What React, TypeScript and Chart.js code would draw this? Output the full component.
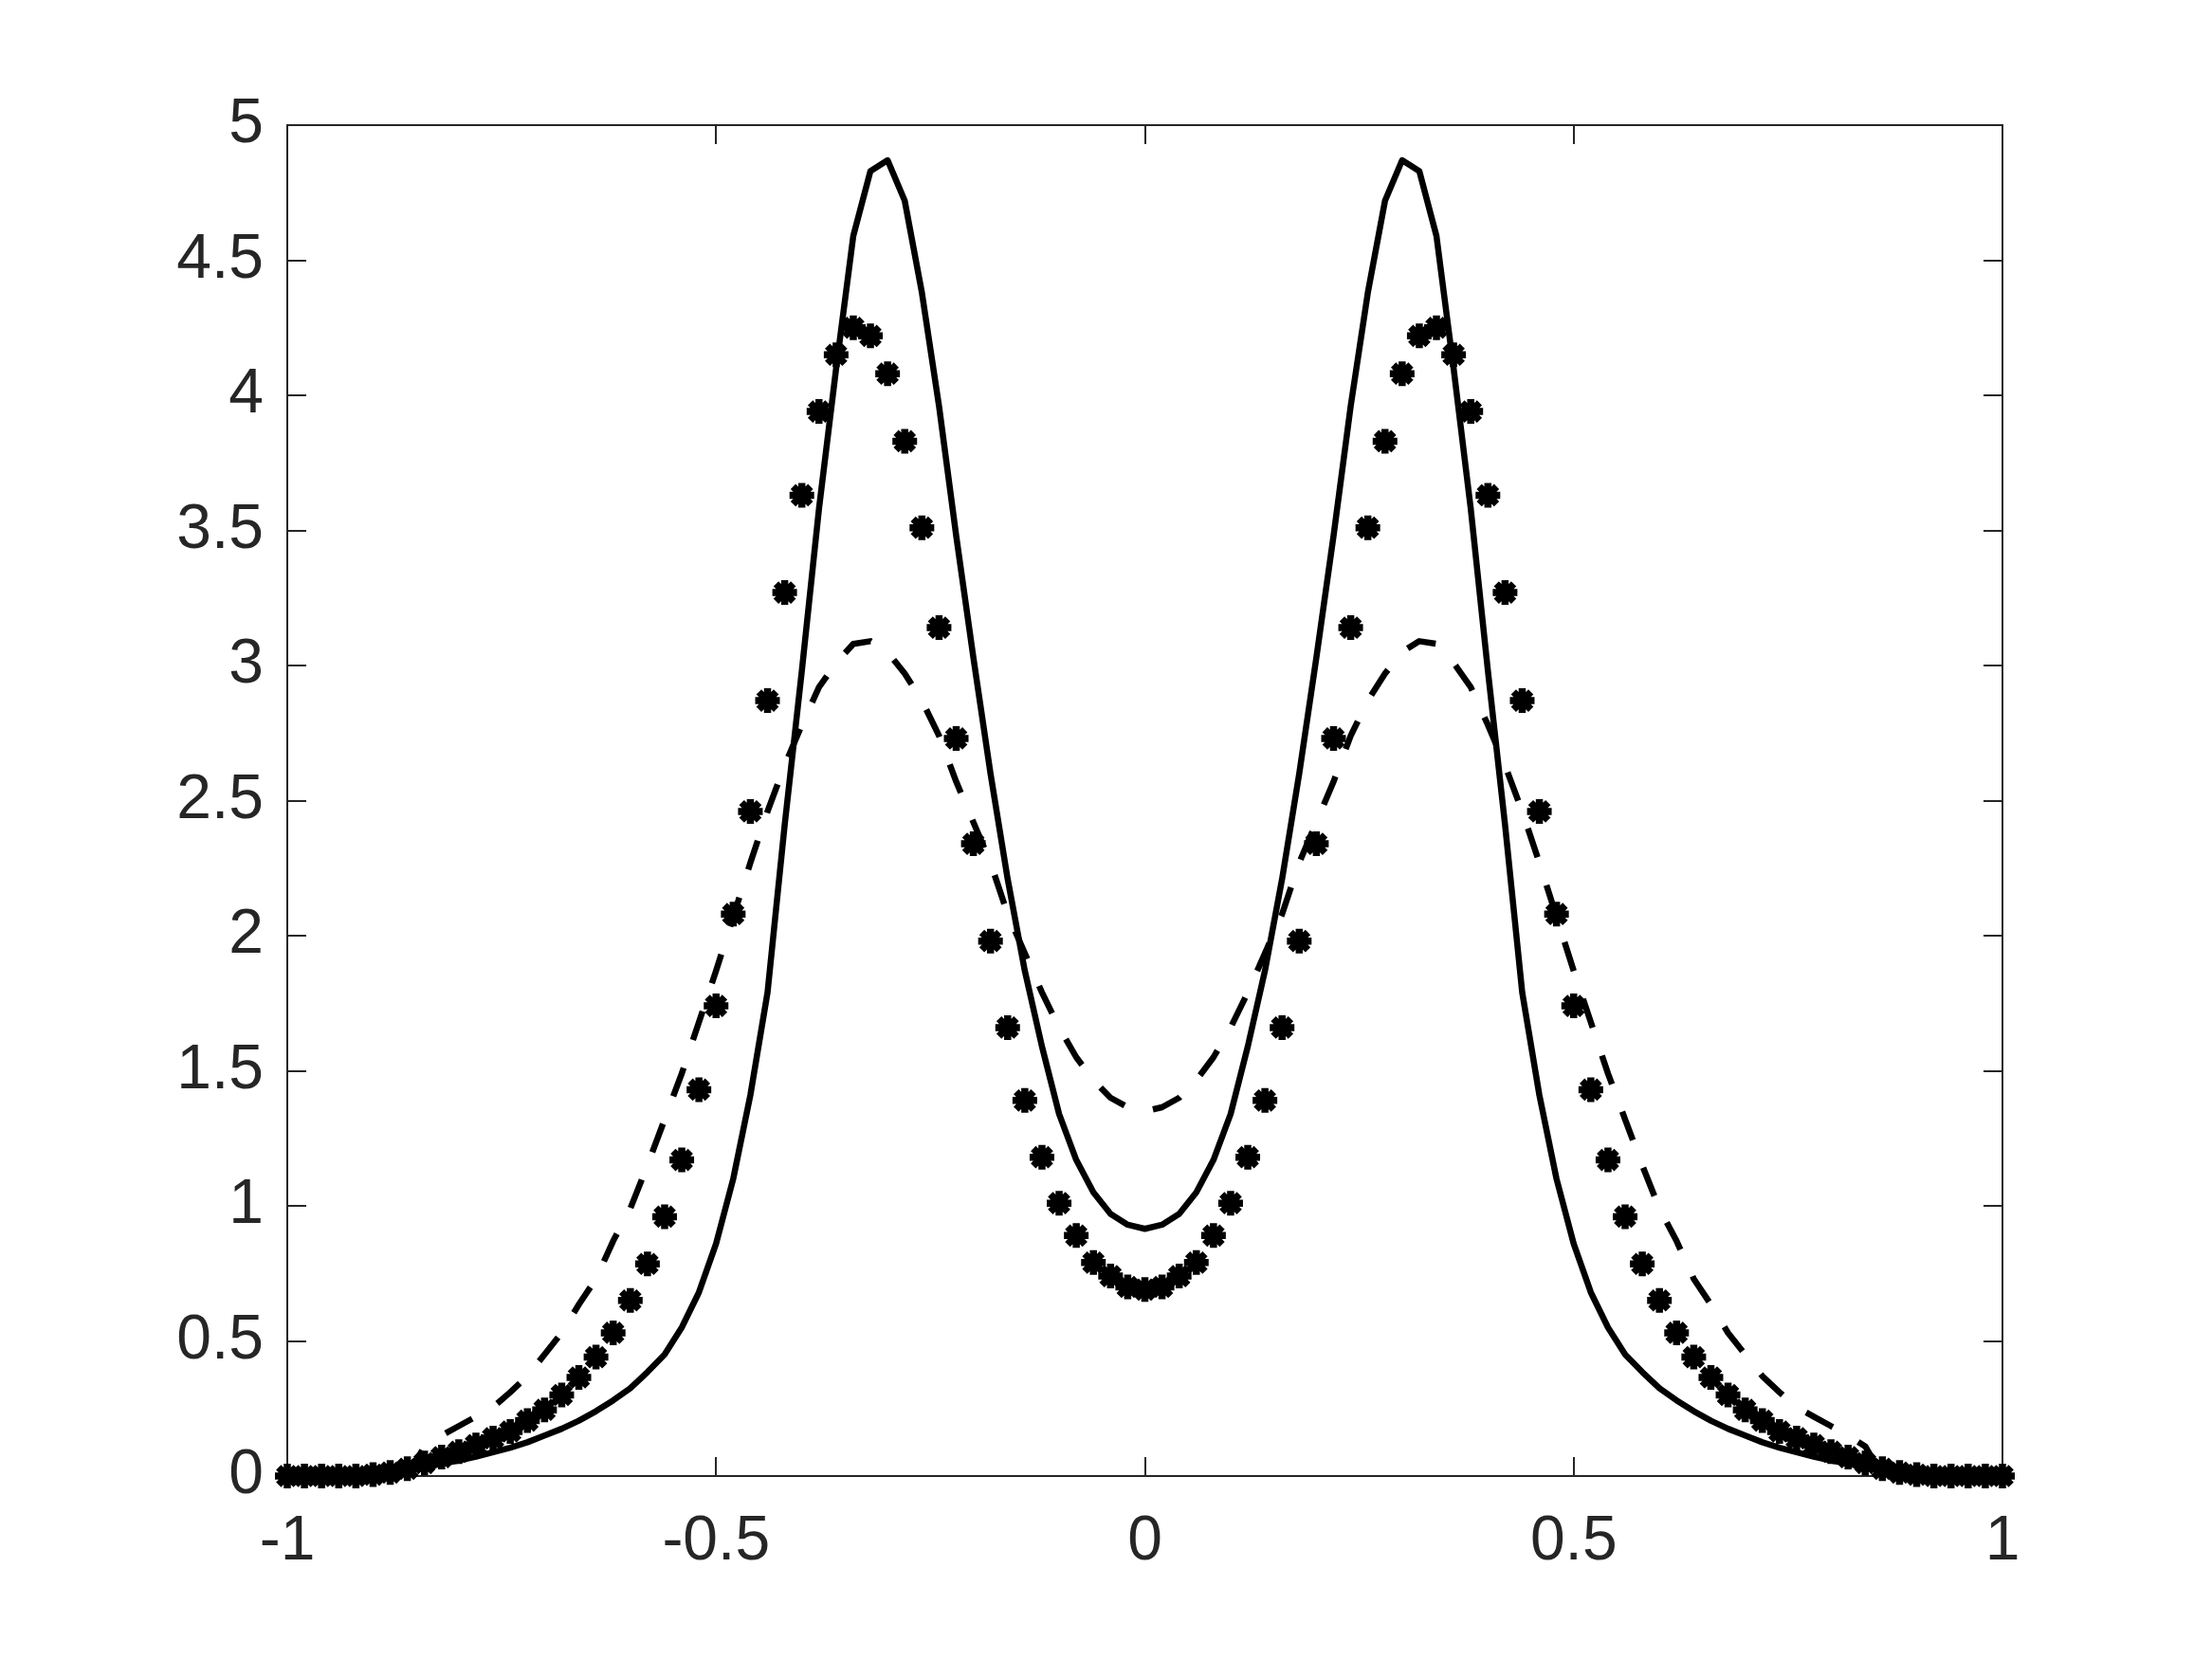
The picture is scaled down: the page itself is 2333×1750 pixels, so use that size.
import React, { useEffect, useRef } from "react";
import { Chart, registerables } from "chart.js";

Chart.register(...registerables);

const xValues = [
  -1, -0.98, -0.96, -0.94, -0.92, -0.9, -0.88, -0.86, -0.84, -0.82,
  -0.8, -0.78, -0.76, -0.74, -0.72, -0.7, -0.68, -0.66, -0.64, -0.62,
  -0.6, -0.58, -0.56, -0.54, -0.52, -0.5, -0.48, -0.46, -0.44, -0.42,
  -0.4, -0.38, -0.36, -0.34, -0.32, -0.3, -0.28, -0.26, -0.24, -0.22,
  -0.2, -0.18, -0.16, -0.14, -0.12, -0.1, -0.08, -0.06, -0.04, -0.02,
  0,
  0.02, 0.04, 0.06, 0.08, 0.1, 0.12, 0.14, 0.16, 0.18, 0.2,
  0.22, 0.24, 0.26, 0.28, 0.3, 0.32, 0.34, 0.36, 0.38, 0.4,
  0.42, 0.44, 0.46, 0.48, 0.5, 0.52, 0.54, 0.56, 0.58, 0.6,
  0.62, 0.64, 0.66, 0.68, 0.7, 0.72, 0.74, 0.76, 0.78, 0.8,
  0.82, 0.84, 0.86, 0.88, 0.9, 0.92, 0.94, 0.96, 0.98, 1,
];

const solidValues = [
  0, 0, 0, 0, 0, 0.004, 0.01, 0.02, 0.032, 0.045,
  0.058, 0.072, 0.088, 0.105, 0.125, 0.15, 0.175, 0.205, 0.24, 0.28,
  0.325, 0.385, 0.45, 0.55, 0.68, 0.86, 1.1, 1.41, 1.79, 2.41,
  2.98, 3.58, 4.1, 4.59, 4.83, 4.87, 4.72, 4.38, 3.96, 3.48,
  3.03, 2.6, 2.21, 1.87, 1.59, 1.34, 1.17, 1.05, 0.97, 0.93,
  0.915,
  0.93, 0.97, 1.05, 1.17, 1.34, 1.59, 1.87, 2.21, 2.6, 3.03,
  3.48, 3.96, 4.38, 4.72, 4.87, 4.83, 4.59, 4.1, 3.58, 2.98,
  2.41, 1.79, 1.41, 1.1, 0.86, 0.68, 0.55, 0.45, 0.385, 0.325,
  0.28, 0.24, 0.205, 0.175, 0.15, 0.125, 0.105, 0.088, 0.072, 0.058,
  0.045, 0.032, 0.02, 0.01, 0.004, 0, 0, 0, 0, 0,
];

const dashedValues = [
  0, 0, 0, 0, 0, 0, 0, 0, 0.11, 0.15,
  0.185, 0.22, 0.255, 0.31, 0.37, 0.45, 0.53, 0.635, 0.73, 0.87,
  0.99, 1.15, 1.32, 1.49, 1.68, 1.87, 2.07, 2.27, 2.46, 2.63,
  2.78, 2.92, 3.01, 3.08, 3.09, 3.05, 2.97, 2.87, 2.74, 2.57,
  2.42, 2.27, 2.08, 1.935, 1.79, 1.66, 1.55, 1.465, 1.4, 1.365,
  1.35,
  1.365, 1.4, 1.465, 1.55, 1.66, 1.79, 1.935, 2.08, 2.27, 2.42,
  2.57, 2.74, 2.87, 2.97, 3.05, 3.09, 3.08, 3.01, 2.92, 2.78,
  2.63, 2.46, 2.27, 2.07, 1.87, 1.68, 1.49, 1.32, 1.15, 0.99,
  0.87, 0.73, 0.635, 0.53, 0.45, 0.37, 0.31, 0.255, 0.22, 0.185,
  0.15, 0.11, 0, 0, 0, 0, 0, 0, 0, 0,
];

const starValues = [
  0, 0, 0, 0, 0, 0.005, 0.013, 0.027, 0.048, 0.07,
  0.09, 0.115, 0.14, 0.165, 0.205, 0.245, 0.3, 0.365, 0.44, 0.53,
  0.65, 0.785, 0.96, 1.17, 1.43, 1.74, 2.08, 2.46, 2.87, 3.27,
  3.63, 3.94, 4.15, 4.25, 4.22, 4.08, 3.83, 3.51, 3.14, 2.73,
  2.34, 1.98, 1.66, 1.39, 1.18, 1.01, 0.89, 0.79, 0.74, 0.7,
  0.69,
  0.7, 0.74, 0.79, 0.89, 1.01, 1.18, 1.39, 1.66, 1.98, 2.34,
  2.73, 3.14, 3.51, 3.83, 4.08, 4.22, 4.25, 4.15, 3.94, 3.63,
  3.27, 2.87, 2.46, 2.08, 1.74, 1.43, 1.17, 0.96, 0.785, 0.65,
  0.53, 0.44, 0.365, 0.3, 0.245, 0.205, 0.165, 0.14, 0.115, 0.09,
  0.07, 0.048, 0.027, 0.013, 0.005, 0, 0, 0, 0, 0,
];

const xTickValues = [-1, -0.5, 0, 0.5, 1];
const yTickValues = [0, 0.5, 1, 1.5, 2, 2.5, 3, 3.5, 4, 4.5, 5];

const FONT_FAMILY = "'Liberation Sans', Arial, Helvetica, sans-serif";
const AXIS_COLOR = "#262626";
const TICK_LEN = 20;

const framePlugin = {
  id: "matlabFrame",
  beforeDatasetsDraw(chart: any) {
    const { ctx, chartArea: a, scales } = chart;
    ctx.save();
    ctx.strokeStyle = AXIS_COLOR;
    ctx.lineWidth = 2;
    ctx.strokeRect(a.left, a.top, a.right - a.left, a.bottom - a.top);
    ctx.beginPath();
    for (const v of xTickValues) {
      const px = Math.round(scales.x.getPixelForValue(v));
      ctx.moveTo(px, a.bottom);
      ctx.lineTo(px, a.bottom - TICK_LEN);
      ctx.moveTo(px, a.top);
      ctx.lineTo(px, a.top + TICK_LEN);
    }
    for (const v of yTickValues) {
      const py = Math.round(scales.y.getPixelForValue(v));
      ctx.moveTo(a.left, py);
      ctx.lineTo(a.left + TICK_LEN, py);
      ctx.moveTo(a.right, py);
      ctx.lineTo(a.right - TICK_LEN, py);
    }
    ctx.stroke();
    ctx.restore();
  },
};

export default function App() {
  const canvasRef = useRef<HTMLCanvasElement | null>(null);

  useEffect(() => {
    const canvas = canvasRef.current;
    if (!canvas) return;
    const toPoints = (vals: number[]) => xValues.map((x, i) => ({ x, y: vals[i] }));

    const chart = new Chart(canvas, {
      type: "line",
      data: {
        datasets: [
          {
            label: "stars",
            data: toPoints(starValues),
            showLine: false,
            pointStyle: "star",
            pointRadius: 13,
            pointBorderWidth: 7.5,
            borderColor: "#000000",
            backgroundColor: "#000000",
            pointBorderColor: "#000000",
            pointBackgroundColor: "#000000",
            clip: false,
          } as any,
          {
            label: "solid",
            data: toPoints(solidValues),
            borderColor: "#000000",
            borderWidth: 6.5,
            pointRadius: 0,
            fill: false,
            tension: 0,
            borderJoinStyle: "round",
          },
          {
            label: "dashed",
            data: toPoints(dashedValues),
            borderColor: "#000000",
            borderWidth: 6.5,
            borderDash: [32, 31],
            pointRadius: 0,
            fill: false,
            tension: 0,
            borderJoinStyle: "round",
          },
        ],
      },
      options: {
        animation: false,
        responsive: false,
        devicePixelRatio: 1,
        events: [],
        layout: { padding: { left: 0, right: 221, top: 132, bottom: 0 } },
        plugins: {
          legend: { display: false },
          tooltip: { enabled: false },
        },
        scales: {
          x: {
            type: "linear",
            min: -1,
            max: 1,
            afterBuildTicks: (s: any) => {
              s.ticks = xTickValues.map((v) => ({ value: v }));
            },
            afterFit: (s: any) => {
              s.height = 193;
            },
            grid: { display: false },
            border: { display: false },
            ticks: {
              callback: (v: any) => String(v),
              font: { family: FONT_FAMILY, size: 66 },
              color: AXIS_COLOR,
              padding: 22,
              maxRotation: 0,
              autoSkip: false,
            },
          },
          y: {
            type: "linear",
            min: 0,
            max: 5,
            afterBuildTicks: (s: any) => {
              s.ticks = yTickValues.map((v) => ({ value: v }));
            },
            afterFit: (s: any) => {
              s.width = 303;
            },
            grid: { display: false },
            border: { display: false },
            ticks: {
              callback: (v: any) => String(v),
              font: { family: FONT_FAMILY, size: 66 },
              color: AXIS_COLOR,
              padding: 17,
              autoSkip: false,
            },
          },
        },
      },
      plugins: [framePlugin],
    });

    return () => {
      chart.destroy();
    };
  }, []);

  return (
    <div
      style={{
        position: "absolute",
        left: 0,
        top: 0,
        width: 2333,
        height: 1750,
        background: "#ffffff",
      }}
    >
      <canvas
        ref={canvasRef}
        width={2333}
        height={1750}
        style={{ width: 2333, height: 1750, display: "block" }}
      />
    </div>
  );
}
